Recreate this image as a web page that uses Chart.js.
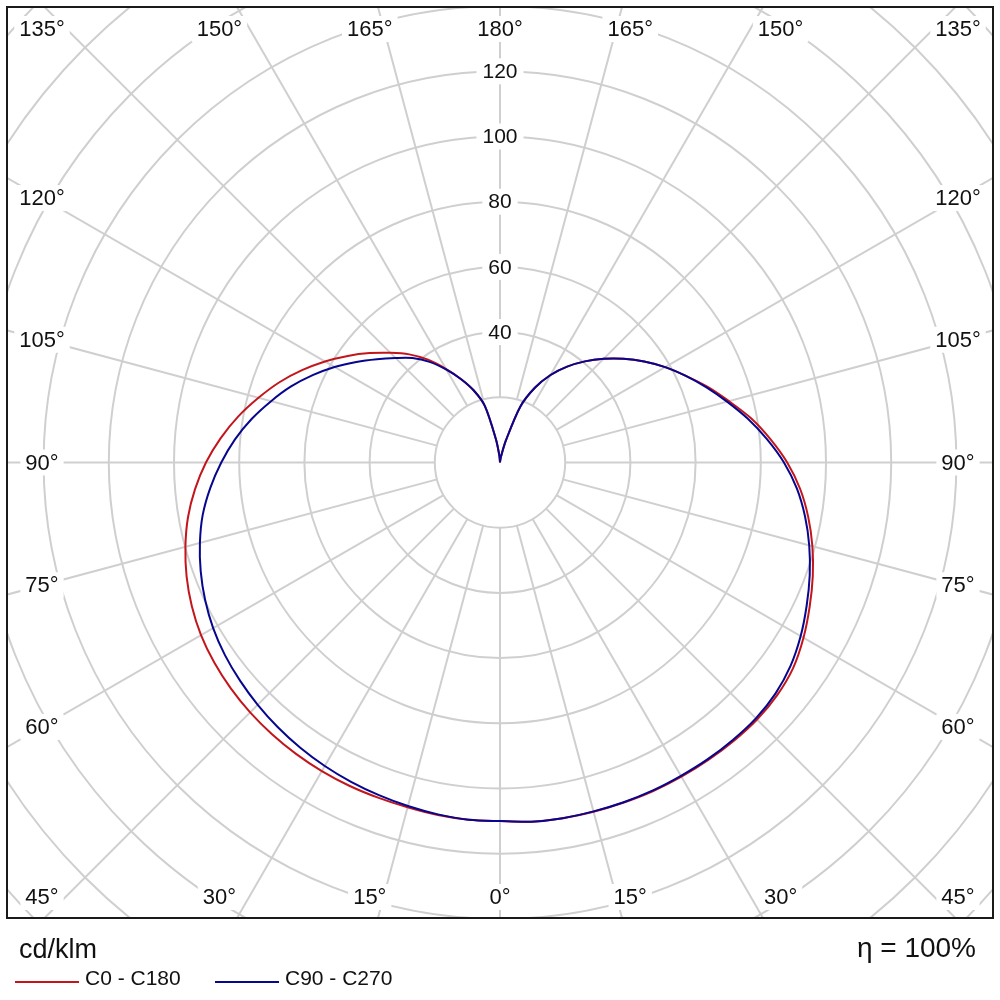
<!DOCTYPE html>
<html>
<head>
<meta charset="utf-8">
<script src="https://cdn.jsdelivr.net/npm/chart.js@4/dist/chart.umd.min.js"></script>
<style>
html,body{margin:0;padding:0;background:#fff;}
canvas{display:block;}
</style>
</head>
<body>
<canvas id="c" width="1000" height="1000"></canvas>
<script>
// ---- data (cd/klm) ----
const gammaAngles = [0,5,10,15,20,25,30,35,40,45,50,55,60,65,70,75,80,85,90,95,100,105,110,115,120,125,130,135,140,145,150,155,160,165,170,175,180];
// C0 (right half, red)
const c0   = [110.3,110.6,110.8,110.9,111,111.2,111.3,111.4,111.5,111.5,111,109.8,107.5,104.8,102.1,99.2,96,92.4,88.1,83.2,78.2,72.7,67.8,62.9,58.5,54,49.5,45,40.5,35.9,31,25.3,18.3,7,2,0.5,0];
// C180 (left half, red)
const c180 = [110,110,109.8,109.5,109.4,109.4,109.3,109.1,108.8,108.4,107.8,107,105.9,104.3,102.3,99.9,97.2,93.9,90.2,86,81.5,76.7,72,67,62,57,52.2,47.6,43.3,38.5,33.2,28.2,23.5,18,7.3,2,0];
// C90 (right half, blue)
const c90  = [110.3,110.6,110.8,110.8,110.9,111,111,111.1,111.1,111,110.3,108.8,106.5,103.8,101.1,98.2,95,91.4,87.1,82.2,77.2,72.1,67.4,62.9,58.5,54,49.5,45,40.5,35.9,31,25.3,18.3,7,2,0.5,0];
// C270 (left half, blue)
const c270 = [110,110,109.6,109.1,108.6,108.1,107.5,106.8,106,105.1,104.1,103,101.6,99.8,97.7,95.3,92.6,89.2,85.5,81.6,77.3,72.7,68.2,63.4,58.6,53.8,49.3,45.3,41.8,37.7,32.9,28.2,23.5,18,7.3,2,0];

const seriesNames = ['C0 - C180', 'C90 - C270'];
const seriesColors = ['#c3161c', '#06068f'];
const ringValues = [20,40,60,80,100,120,140,160,180,200];
const ringTickValues = [40,60,80,100,120];
const spokeAngles = [0,15,30,45,60,75,90,105,120,135,150,165,180,195,210,225,240,255,270,285,300,315,330,345];
const angleLabelValues = [0,15,30,45,60,75,90,105,120,135,150,165,180];
const unitLabel = 'cd/klm';
const effLabel = '\u03B7 = 100%';

// build a closed polar curve: left half from 180 -> 0, right half 0 -> 180
function buildCurve(leftVals, rightVals) {
  const pts = [];
  for (let i = gammaAngles.length - 1; i >= 0; i--) {
    const g = gammaAngles[i] * Math.PI / 180;
    pts.push({x: -leftVals[i] * Math.sin(g), y: -leftVals[i] * Math.cos(g)});
  }
  for (let i = 1; i < gammaAngles.length; i++) {
    const g = gammaAngles[i] * Math.PI / 180;
    pts.push({x: rightVals[i] * Math.sin(g), y: -rightVals[i] * Math.cos(g)});
  }
  return pts;
}

const FONT = '"Liberation Sans", Arial, sans-serif';
const PPU = 3.26;           // pixels per cd/klm
const AREA = {left: 7, top: 7, right: 993, bottom: 918};
const xHalf = (AREA.right - AREA.left) / 2 / PPU;
const yHalf = (AREA.bottom - AREA.top) / 2 / PPU;

const polarPlugin = {
  id: 'polarGrid',
  beforeDatasetsDraw(chart) {
    const ctx = chart.ctx, a = chart.chartArea;
    const xs = chart.scales.x, ys = chart.scales.y;
    const cx = xs.getPixelForValue(0), cy = ys.getPixelForValue(0);
    const ppu = xs.getPixelForValue(1) - cx;
    ctx.save();
    ctx.beginPath();
    ctx.rect(a.left, a.top, a.right - a.left, a.bottom - a.top);
    ctx.clip();
    ctx.strokeStyle = '#cfcfcf';
    ctx.lineWidth = 2;
    ringValues.forEach(v => {
      ctx.beginPath();
      ctx.arc(cx, cy, v * ppu, 0, Math.PI * 2);
      ctx.stroke();
    });
    spokeAngles.forEach(d => {
      const t = d * Math.PI / 180;
      const r0 = ringValues[0], r1 = 260;
      ctx.beginPath();
      ctx.moveTo(xs.getPixelForValue(r0 * Math.sin(t)), ys.getPixelForValue(-r0 * Math.cos(t)));
      ctx.lineTo(xs.getPixelForValue(r1 * Math.sin(t)), ys.getPixelForValue(-r1 * Math.cos(t)));
      ctx.stroke();
    });
    // ring tick labels
    ctx.font = '21px ' + FONT;
    ctx.textAlign = 'center';
    ctx.textBaseline = 'middle';
    ringTickValues.forEach(v => {
      const y = ys.getPixelForValue(v);
      const w = ctx.measureText(String(v)).width + 12;
      ctx.fillStyle = '#ffffff';
      ctx.fillRect(cx - w / 2, y - 13, w, 26);
      ctx.fillStyle = '#111111';
      ctx.fillText(String(v), cx, y + 1);
    });
    // angle labels
    ctx.font = '22px ' + FONT;
    const kx = (a.right - a.left) / 2 - 7;
    const lim = (a.right - a.left) / 2 - 35;
    const ky = lim;
    const yTop = a.top + 22, yBot = a.bottom - 21;
    angleLabelValues.forEach(th => {
      const sides = (th === 0 || th === 180) ? [1] : [-1, 1];
      sides.forEach(s => {
        let x, y;
        if (th <= 45) {
          x = cx + s * Math.min(kx * Math.tan(th * Math.PI / 180), lim);
          y = yBot;
        } else if (th >= 135) {
          x = cx + s * Math.min(kx * Math.tan((180 - th) * Math.PI / 180), lim);
          y = yTop;
        } else {
          x = cx + s * lim;
          y = cy + ky * Math.tan((90 - th) * Math.PI / 180);
        }
        const txt = th + '\u00B0';
        const w = ctx.measureText(txt).width + 10;
        ctx.fillStyle = '#ffffff';
        ctx.fillRect(x - w / 2, y - 13, w, 26);
        ctx.fillStyle = '#111111';
        ctx.fillText(txt, x, y + 1);
      });
    });
    ctx.restore();
  },
  afterDraw(chart) {
    const ctx = chart.ctx, a = chart.chartArea;
    ctx.save();
    ctx.strokeStyle = '#1a1a1a';
    ctx.lineWidth = 2;
    ctx.strokeRect(a.left, a.top, a.right - a.left, a.bottom - a.top);
    ctx.fillStyle = '#111111';
    ctx.textBaseline = 'alphabetic';
    ctx.font = '27px ' + FONT;
    ctx.textAlign = 'left';
    ctx.fillText(unitLabel, 19, 958);
    ctx.font = '28px ' + FONT;
    ctx.textAlign = 'right';
    ctx.fillText(effLabel, 976, 957);
    // legend
    ctx.font = '21px ' + FONT;
    ctx.textAlign = 'left';
    const items = [{x: 15}, {x: 215}];
    items.forEach((it, i) => {
      ctx.strokeStyle = seriesColors[i];
      ctx.lineWidth = 2;
      ctx.beginPath();
      ctx.moveTo(it.x, 982);
      ctx.lineTo(it.x + 64, 982);
      ctx.stroke();
      ctx.fillStyle = '#111111';
      ctx.fillText(seriesNames[i], it.x + 70, 985);
    });
    ctx.restore();
  }
};

new Chart(document.getElementById('c'), {
  type: 'scatter',
  data: {
    datasets: [
      {label: seriesNames[0], data: buildCurve(c180, c0), showLine: true, borderColor: seriesColors[0], borderWidth: 2, pointRadius: 0, tension: 0.3, order: 2},
      {label: seriesNames[1], data: buildCurve(c270, c90), showLine: true, borderColor: seriesColors[1], borderWidth: 2, pointRadius: 0, tension: 0.3, order: 1}
    ]
  },
  options: {
    responsive: false,
    animation: false,
    devicePixelRatio: 1,
    layout: {padding: {left: AREA.left, top: AREA.top, right: 1000 - AREA.right, bottom: 1000 - AREA.bottom}},
    scales: {
      x: {type: 'linear', min: -xHalf, max: xHalf, display: false},
      y: {type: 'linear', min: -yHalf, max: yHalf, display: false}
    },
    plugins: {legend: {display: false}, tooltip: {enabled: false}}
  },
  plugins: [polarPlugin]
});
</script>
</body>
</html>
